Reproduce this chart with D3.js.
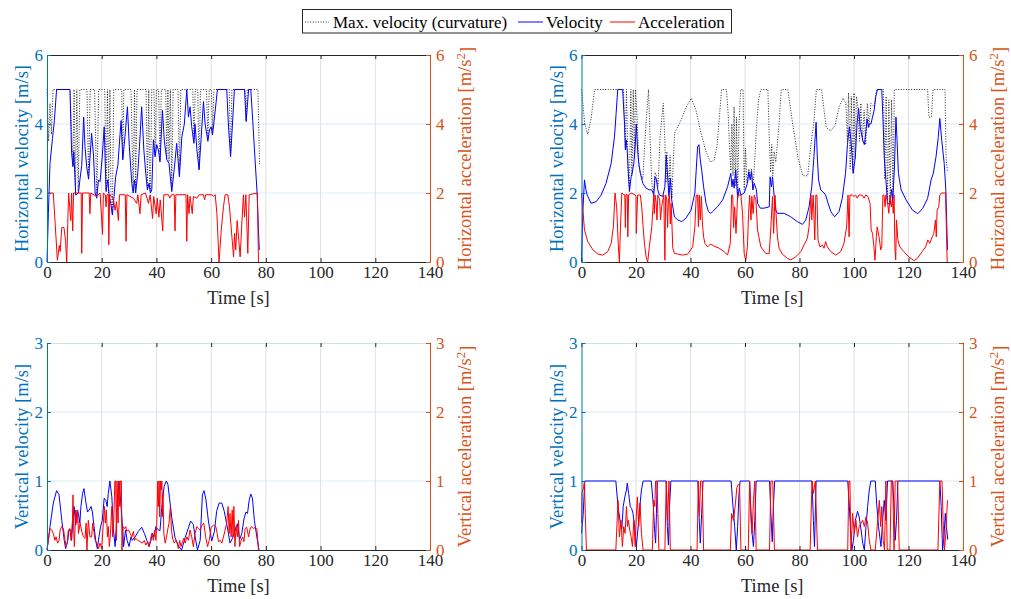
<!DOCTYPE html>
<html>
<head>
<meta charset="utf-8">
<script src="https://cdn.jsdelivr.net/npm/d3@7"></script>
<style>
  body { margin: 0; background: #fff; }
  svg { display: block; }
</style>
</head>
<body>
<svg id="chart" width="1011" height="599" font-family="'Liberation Serif', 'Times New Roman', serif"></svg>
<script>
// ---- tick values ----
const timeTicks = [0, 20, 40, 60, 80, 100, 120, 140];
const horizTicks = [0, 2, 4, 6];
const vertTicks = [0, 1, 2, 3];

// ---- top-left: horizontal, [time s, value] ----
const tlMaxVel = [[0,5],[0.6,3.5],[1.1,4.6],[1.6,3.7],[2.2,5],[8.4,5],[9.5,2.8],[9.9,5],[10.4,2.0],[10.9,5],[11.4,2.05],[12.0,5],
  [14.6,5],[15.2,2.45],[15.8,5],[17.4,5],[18.2,1.9],[18.9,5],[21.1,5],[21.6,2.1],[22.1,5],[22.5,2.0],[23.0,5],[23.4,1.8],[23.9,1.4],
  [24.4,5],[27.3,5],[27.7,3.0],[28.1,5],[30.7,5],[31.5,2.05],[32.0,5],[32.4,2.05],[32.9,5],[36.2,5],[36.7,2.15],[37.2,5],[37.5,2.3],
  [37.8,2.05],[38.3,5],[39.1,5],[39.5,3.1],[40.0,5],[40.8,5],[41.3,2.95],[41.8,5],[43.4,5],[43.8,3.0],[44.2,5],[44.6,2.9],[45.1,5],
  [45.6,2.1],[46.1,5],[47.9,5],[48.4,2.5],[48.9,5],[53.3,5],[53.7,3.5],[54.2,5],[55.1,5],[55.6,2.7],[56.1,5],[58.3,5],[58.8,3.55],
  [59.3,5],[60.1,5],[60.5,3.7],[61.0,5],[66.6,5],[67.1,3.1],[67.6,5],[72.4,5],[72.8,4.1],[73.2,5],[77.1,5],[77.7,2.8]];
const tlVel = [[0,0],[0.5,1.4],[1.1,2.86],[2.0,3.58],[2.7,4.1],[3.5,5],[8.4,5],[9.0,3.15],[9.5,2.76],[9.8,3.2],[10.5,1.94],[11.5,2.0],
  [12.1,2.43],[12.7,2.8],[13.4,4.2],[13.9,3.34],[14.5,2.76],[15.2,2.4],[16.3,3.73],[17.0,3.1],[17.6,2.0],[18.2,1.85],[18.8,2.38],
  [19.4,2.33],[20.2,3.05],[20.9,3.92],[21.6,2.04],[22.2,2.38],[22.7,1.94],[23.3,1.7],[23.9,1.36],[24.5,1.9],[25.1,2.47],[25.9,2.8],
  [26.7,3.7],[27.1,4.1],[27.7,2.96],[28.5,3.63],[29.4,4.5],[30.1,3.34],[31.0,2.28],[31.5,2.0],[32.0,2.38],[32.4,2.0],[33.2,2.6],
  [33.8,3.34],[34.6,4.5],[35.4,3.25],[36.1,2.57],[36.7,2.09],[37.3,2.28],[37.8,2.0],[38.3,2.09],[38.9,3.54],[39.5,3.05],[40.1,3.4],
  [40.7,3.25],[41.3,2.9],[42.2,4.4],[42.9,3.5],[43.8,2.96],[44.6,2.86],[45.6,2.04],[46.6,2.76],[47.4,3.44],[48.4,2.47],[49.3,3.63],
  [50.2,4.0],[51.1,5],[51.7,4.2],[52.3,4.5],[52.9,3.92],[53.7,3.44],[54.1,4.0],[54.8,3.25],[55.6,2.67],[56.3,3.54],[57.2,4.65],
  [57.8,4.0],[58.8,3.5],[59.4,3.83],[60.0,3.92],[60.5,3.68],[61.1,4.1],[62.3,5],[65.7,5],[66.3,4.0],[67.1,3.05],[67.8,4.0],[68.5,5],
  [72.2,5],[72.8,4.07],[73.7,5],[74.5,5],[75.2,4.1],[76.1,2.9],[76.8,2.0],[77.3,0.9],[77.6,0.35]];
const tlAcc = [[0,2],[2.3,2],[3.8,0.05],[4.5,0.48],[4.8,0.3],[5.4,1.0],[6.2,1.0],[6.8,0.6],[7.2,0],[7.9,2],[8.7,1.2],[9.0,2],[9.4,0.9],
  [9.7,2],[12.5,2],[12.7,0.25],[13.0,2],[15.4,2],[15.7,1.4],[16.0,2],[18.2,1.9],[19.4,2],[20.3,0.8],[20.6,2],[21.3,1.95],[21.6,1.6],
  [21.9,1.95],[22.4,1.95],[22.6,0.5],[22.9,1.95],[23.7,1.9],[24.3,1.8],[24.9,1.5],[25.4,1.75],[26.1,1.2],[26.5,1.95],[28.6,1.95],
  [28.9,0.6],[29.2,1.95],[31.6,1.85],[32.8,1.7],[33.2,1.95],[34.0,1.4],[34.4,1.95],[36.0,2],[37.1,1.7],[37.7,1.95],[38.6,1.26],
  [39.0,1.9],[39.9,1.4],[40.3,1.85],[40.9,1.3],[41.4,1.8],[42.3,0.9],[42.7,1.95],[44.4,1.95],[44.9,1.85],[45.5,1.95],[46.5,1.95],
  [46.8,0.9],[47.1,1.95],[50.8,1.95],[51.1,0.6],[51.4,1.95],[51.9,1.4],[52.3,1.9],[53.1,1.4],[53.5,1.9],[54.8,1.85],[55.6,1.95],
  [57.2,1.95],[57.6,1.8],[58.0,1.95],[60.3,1.95],[60.8,1.9],[61.5,1.95],[62.1,1.4],[62.9,0],[63.7,0.93],[64.5,1.6],[65.1,1.95],
  [66.1,1.95],[66.7,1.6],[67.6,0.73],[68.2,0.15],[68.6,0.83],[69.0,0.35],[69.5,1.2],[70.0,0.73],[70.6,0.15],[71.2,1.1],[71.8,1.95],
  [72.2,1.3],[72.7,1.95],[73.4,0.25],[73.9,1.95],[76.9,2],[77.3,0]];

// ---- top-right: horizontal ----
const trMaxVel = [[0,5],[1.2,4.0],[2.3,3.7],[3.6,4.2],[4.8,5],[15.4,5],[16.1,3.3],[16.5,5],[17.1,2.6],[17.6,2.1],[18.1,5],[18.5,2.5],
  [19.0,5],[19.4,3.0],[19.8,5],[20.4,4.2],[21.0,2.9],[21.5,2.6],[22.5,2.4],[23.5,3.8],[24.6,5],[25.3,3.3],[25.8,2.3],[26.4,2.0],
  [27.0,2.6],[27.5,2.5],[28.1,2.2],[28.8,3.6],[30.0,4.6],[30.6,3.5],[31.0,2.3],[31.3,3.2],[31.8,2.5],[32.1,2.0],[32.5,3.1],[32.8,2.45],
  [33.2,1.85],[33.6,2.8],[34.2,3.75],[36.5,4.1],[38.5,4.5],[40.3,4.75],[42.0,4.4],[43.8,3.75],[45.7,3.2],[47.3,2.9],[48.7,2.95],
  [49.8,3.4],[50.5,4.1],[51.4,5],[53.2,5],[53.8,4.3],[54.4,3.2],[54.8,2.65],[55.2,4.0],[55.6,2.5],[56.0,4.5],[56.4,2.2],[56.9,4.2],
  [57.3,1.9],[57.8,4.0],[58.4,5],[59.3,5],[59.7,2.1],[60.2,3.3],[60.7,2.3],[61.4,2.7],[62.0,2.45],[62.4,2.7],[62.9,2.1],[63.6,3.0],
  [64.2,3.9],[65.0,4.7],[65.8,5],[68.4,5],[68.9,3.6],[69.4,2.6],[69.8,3.4],[70.2,2.5],[70.7,3.2],[71.3,2.9],[72.5,4.0],[73.3,5],
  [75.7,5],[77.5,4.0],[79.5,3.0],[81.2,2.5],[83.0,2.5],[84.2,3.4],[85.2,4.0],[86.2,5],[88.1,5],[89.0,4.4],[89.8,3.9],[91.4,3.8],
  [93.0,3.95],[94.6,4.5],[96.0,4.75],[97.0,4.6],[97.6,3.5],[98.0,4.9],[98.6,2.7],[99.0,4.8],[99.6,2.6],[100.0,4.9],[100.4,3.0],
  [100.9,4.8],[101.4,4.5],[102.0,3.5],[102.5,4.6],[103.1,3.5],[103.7,4.4],[104.3,3.4],[104.9,4.6],[105.5,3.9],[106.2,4.6],[107.4,4.5],
  [108.3,5],[110.8,5],[111.3,2.4],[111.8,4.8],[112.3,1.75],[112.8,4.7],[113.3,1.7],[113.8,4.7],[114.3,1.85],[114.8,5],[127.0,5],
  [127.5,4.2],[128.4,4.2],[129.0,5],[133.4,5],[133.8,3.0],[134.3,2.6]];
const trVel = [[0,0],[0.5,1.5],[1.1,2.38],[1.6,2.1],[2.1,1.94],[3.5,1.7],[5.4,1.75],[7.2,1.94],[9.0,2.28],[10.9,2.86],[12.1,3.63],
  [12.7,4.3],[13.3,5],[15.1,5],[15.8,4.0],[16.1,3.25],[16.4,3.54],[16.8,3.2],[17.2,2.57],[17.6,2.04],[18.2,2.47],[18.6,2.57],
  [19.2,2.86],[19.7,3.34],[20.1,4.0],[20.6,3.25],[21.0,2.86],[21.6,2.57],[22.5,2.28],[23.7,2.14],[24.9,2.09],[25.8,2.09],[26.3,2.0],
  [26.5,1.9],[27.0,2.47],[27.5,2.38],[28.0,2.09],[28.6,1.94],[29.8,1.9],[30.6,2.18],[31.1,3.1],[31.6,2.47],[32.1,1.9],[32.6,2.43],
  [33.1,1.8],[34.1,1.31],[35.3,1.22],[36.8,1.17],[38.3,1.27],[40.2,1.5],[41.6,2.0],[42.6,3.34],[43.1,3.4],[43.6,2.96],[44.1,2.67],
  [44.8,2.18],[45.7,1.7],[46.6,1.46],[47.5,1.41],[48.1,1.46],[49.9,1.6],[51.8,1.8],[53.6,2.18],[54.8,2.57],[55.2,2.18],[55.6,2.4],
  [56.0,2.14],[56.6,2.67],[57.3,1.85],[57.9,2.14],[58.5,1.94],[59.7,2.0],[60.9,2.28],[61.4,2.62],[61.9,2.38],[62.4,2.62],[62.9,2.09],
  [63.4,2.28],[64.2,2.09],[64.6,1.7],[65.6,1.56],[67.0,1.56],[68.9,1.6],[69.2,2.47],[69.7,2.18],[70.1,2.47],[70.7,1.9],[71.3,1.5],
  [71.9,1.41],[74.4,1.41],[76.8,1.31],[79.2,1.17],[81.1,1.09],[82.3,1.22],[83.5,1.6],[84.5,2.18],[85.3,3.05],[86.1,4.05],[86.5,3.1],
  [87.0,2.38],[87.8,2.09],[89.0,2.0],[89.6,1.94],[90.5,1.7],[91.5,1.46],[92.9,1.31],[94.5,1.46],[95.7,1.85],[96.9,2.57],[97.6,3.4],
  [98.3,3.92],[98.9,3.53],[99.7,2.57],[100.5,3.05],[101.1,4.0],[101.7,4.45],[102.3,3.9],[103.2,3.53],[103.8,3.4],[104.4,3.8],
  [104.8,4.15],[105.3,3.9],[105.6,4.0],[106.2,4.0],[106.8,4.2],[107.4,4.4],[108.0,4.8],[108.6,5],[110.2,5],[110.7,4.0],[111.1,3.05],
  [111.7,2.38],[112.3,1.7],[113.2,1.67],[113.8,2.1],[114.2,1.8],[114.8,2.67],[115.4,4.2],[115.8,3.53],[116.3,2.57],[117.3,2.09],
  [119.1,1.8],[121.5,1.5],[123.4,1.4],[125.2,1.55],[127.0,1.84],[128.3,2.38],[129.1,2.57],[130.1,3.05],[130.9,3.6],[131.5,4.16],
  [132.2,3.53],[133.1,2.86],[133.7,2.09],[134.3,0.35]];
const trAcc = [[0,2],[0.4,1.6],[1.1,0.93],[2.3,0.59],[4.2,0.35],[6.0,0.23],[7.8,0.2],[9.6,0.3],[10.9,0.54],[11.7,1.02],[12.3,2.0],
  [12.9,1.6],[13.5,0.5],[13.9,0],[14.3,1.0],[14.8,2],[15.5,1.95],[15.9,1.95],[16.1,1.0],[16.3,1.95],[16.8,1.95],[17.0,0.73],[17.3,1.95],
  [18.2,2.0],[19.6,1.95],[20.0,1.9],[20.1,0.83],[20.6,1.94],[21.6,1.94],[22.1,1.6],[22.7,0.93],[23.1,0.54],[23.7,0.15],[24.3,0],
  [24.9,0.45],[25.8,1.02],[26.5,1.94],[26.7,1.4],[27.0,1.94],[27.4,1.7],[27.7,1.22],[28.0,1.94],[28.7,1.8],[29.0,1.22],[29.4,1.6],
  [30.2,1.94],[30.6,0.05],[30.9,1.94],[31.3,1.8],[31.6,1.0],[31.9,1.8],[32.3,1.94],[32.6,1.1],[32.9,1.7],[33.5,0.4],[34.1,0.25],
  [35.3,0.23],[37.1,0.2],[39.0,0.23],[40.8,0.44],[41.6,1.02],[42.1,1.94],[42.6,1.94],[42.9,1.02],[43.2,1.94],[43.6,1.22],[44.0,1.9],
  [44.4,1.1],[44.8,0.73],[45.3,0.54],[46.3,0.44],[47.3,0.52],[48.7,0.46],[50.5,0.4],[52.4,0.3],[53.6,0.2],[54.6,0.54],[55.1,1.94],
  [55.5,1.94],[55.8,1.0],[56.2,1.6],[56.7,0.83],[57.3,1.94],[58.5,1.94],[59.1,1.4],[59.7,0.25],[60.3,0.05],[60.9,0.45],[61.3,1.4],
  [61.7,1.94],[62.2,1.22],[62.5,1.9],[63.0,1.4],[63.4,1.94],[64.0,1.8],[64.6,0.93],[65.8,0.44],[67.6,0.25],[68.9,0.25],[69.5,1.02],
  [70.1,1.9],[70.5,0.83],[71.0,1.94],[71.4,1.4],[71.9,0.73],[72.5,0.4],[73.7,0.23],[75.6,0.1],[76.8,0.06],[78.6,0.15],[80.5,0.3],
  [81.7,0.5],[82.9,0.69],[83.5,1.02],[84.2,1.94],[84.5,1.22],[85.0,1.94],[85.3,1.4],[85.6,0.64],[86.0,1.94],[86.4,1.94],[86.8,0.64],
  [87.5,0.44],[88.4,0.49],[89.0,0.4],[89.6,0.59],[90.2,0.44],[91.5,0.3],[93.3,0.2],[95.1,0.3],[96.3,0.54],[97.3,1.02],[97.8,1.94],
  [98.2,0.73],[98.5,1.94],[99.4,1.94],[100.0,1.9],[100.6,1.94],[101.2,1.85],[101.8,1.94],[103.0,1.94],[103.7,1.85],[104.3,1.94],
  [105.1,1.9],[105.9,1.7],[106.3,0.93],[106.8,0.83],[107.3,0.44],[107.7,0.05],[108.2,0.73],[108.5,1.02],[109.2,0.73],[109.8,0.35],
  [110.2,0.45],[110.6,1.94],[111.0,1.94],[111.4,1.6],[111.7,1.94],[112.2,1.8],[112.8,1.41],[113.2,1.94],[113.7,1.6],[114.1,1.8],
  [114.4,1.41],[114.7,1.94],[115.0,0.44],[115.3,0.06],[115.6,1.22],[116.1,0.64],[116.8,0.44],[118.3,0.3],[120.1,0.15],[122.0,0.04],
  [123.2,0.1],[125.0,0.3],[126.3,0.44],[127.1,0.64],[127.8,0.54],[128.7,0.73],[129.3,0.83],[129.9,1.22],[130.2,0.73],[130.5,1.5],
  [131.1,1.6],[131.5,1.94],[132.1,2],[133.6,2],[134.2,0]];

// ---- bottom-left: vertical ----
const blVel = [[0,0],[1.1,0.34],[2.3,0.68],[3.5,0.86],[4.4,0.8],[5.4,0.43],[6.3,0.14],[6.8,0.02],[7.6,0.14],[8.0,0.29],[8.7,0.29],
  [9.0,0.14],[9.4,0.39],[9.9,0.63],[10.5,0.36],[11.0,0.58],[11.5,0.53],[12.0,0.39],[12.4,0.63],[13.0,0.82],[13.5,0.89],[14.1,0.72],
  [14.8,0.55],[15.4,0.58],[16.1,0.63],[16.6,0.55],[17.2,0.34],[17.8,0.14],[18.4,0.02],[19.0,0.19],[19.6,0.34],[20.2,0.43],[20.9,0.75],
  [21.5,0.72],[22.0,0.63],[22.4,0.82],[23.0,1.0],[23.7,0.77],[24.3,0.29],[24.9,0.05],[25.4,0.39],[25.9,0.82],[26.3,1.0],[26.8,0.77],
  [27.6,0.34],[28.0,0.05],[28.7,0.29],[29.3,0.14],[30.0,0.05],[30.7,0.19],[31.2,0.14],[32.2,0.19],[33.4,0.27],[34.6,0.33],[35.6,0.24],
  [36.5,0.14],[37.3,0.05],[38.0,0.14],[38.5,0.24],[39.1,0.19],[39.8,0.34],[40.4,0.3],[41.3,0.28],[41.9,0.6],[42.8,0.92],[43.6,1.0],
  [44.2,0.95],[44.8,0.75],[45.6,0.47],[46.8,0.18],[48.0,0.06],[49.2,0.0],[50.5,0.18],[51.7,0.32],[52.5,0.42],[53.5,0.37],[54.1,0.2],
  [55.0,0.0],[56.0,0.14],[56.8,0.8],[57.4,0.86],[58.1,0.73],[59.0,0.42],[60.2,0.13],[61.2,0.27],[62.0,0.56],[62.9,0.68],[63.9,0.68],
  [64.8,0.56],[66.1,0.29],[66.9,0.1],[67.8,0.17],[68.8,0.29],[69.6,0.38],[70.4,0.15],[71.2,0.24],[72.0,0.45],[72.7,0.55],[73.3,0.53],
  [73.9,0.72],[74.5,0.81],[75.1,0.75],[75.8,0.43],[76.7,0.19],[77.5,0]];
const blAcc = [[0,0],[0.5,0.14],[1.1,0.31],[1.7,0.29],[2.3,0.24],[2.9,0.14],[3.3,0.19],[3.9,0.1],[4.4,0.14],[4.8,0.29],[5.4,0.34],
  [6.0,0.31],[6.6,0.14],[7.0,0.05],[7.4,0.1],[7.8,0.29],[8.4,0.31],[8.8,0.14],[9.3,0.43],[9.5,0.8],[9.8,0.24],[10.0,0.05],[10.5,0.58],
  [10.9,0.39],[11.2,0.58],[11.5,0.24],[12.1,0.39],[12.7,0.27],[13.3,0.19],[13.9,0.17],[14.3,0.39],[14.6,0],[15.1,0.43],[15.7,0.19],
  [16.3,0.19],[16.7,0.39],[17.1,0.27],[17.6,0.14],[18.2,0.1],[18.8,0.02],[19.4,0.1],[20.0,0.02],[20.6,0.39],[21.0,0.63],[21.3,0.39],
  [21.7,0.58],[22.1,0.19],[22.4,0.34],[22.8,0.05],[23.2,0.24],[23.7,0.63],[24.0,0.19],[24.4,0.43],[24.8,1.0],[25.1,1.0],[25.4,0.14],
  [25.6,1.0],[26.0,0.39],[26.2,1.0],[26.6,0.63],[26.8,1.0],[27.2,1.0],[27.4,0],[27.8,0.34],[28.3,0.31],[28.8,0.34],[29.1,0.27],
  [29.8,0.29],[30.4,0.24],[31.0,0.19],[31.6,0.27],[32.0,0.14],[32.4,0.17],[33.2,0.14],[34.0,0.12],[34.9,0.1],[35.6,0.14],[36.1,0.07],
  [36.8,0.12],[37.3,0.05],[37.8,0.14],[38.3,0.24],[38.9,0.14],[39.3,0.29],[39.8,0.14],[40.1,0.34],[40.5,1.0],[40.7,0.63],[41.0,1.0],
  [41.2,0.48],[41.5,1.0],[41.7,0.87],[42.0,1.0],[42.2,0.48],[42.4,0.82],[42.7,0.24],[43.2,0.1],[43.7,0.19],[44.1,0.29],[44.6,0.39],
  [45.1,0.63],[45.5,0.29],[45.9,0.17],[46.5,0.1],[47.1,0.14],[47.6,0.1],[48.0,0.02],[48.5,0.14],[49.0,0.05],[49.5,0.12],[50.0,0.17],
  [50.5,0.1],[51.1,0.19],[51.7,0.14],[52.3,0.29],[52.9,0.19],[53.5,0.05],[54.1,0.24],[54.8,0.34],[55.4,0.31],[56.0,0.29],[56.6,0.35],
  [57.3,0.39],[58.0,0.19],[58.7,0.05],[59.3,0.14],[60.0,0.33],[60.9,0.36],[61.7,0.34],[62.2,0.24],[62.7,0.12],[63.3,0.14],[63.9,0.1],
  [64.5,0.19],[65.1,0.29],[65.7,0.39],[66.2,0.63],[66.6,0.24],[66.9,0.53],[67.3,0.19],[67.7,0.58],[68.0,0.19],[68.3,0.63],[68.7,0.05],
  [69.1,0.34],[69.6,0.19],[70.0,0.43],[70.4,0.05],[71.0,0.14],[71.5,0.19],[72.0,0.12],[72.4,0.31],[73.0,0.33],[73.7,0.19],[74.3,0.32],
  [74.9,0.34],[75.5,0.31],[76.1,0.33],[76.7,0.31],[77.3,0]];

// ---- bottom-right: vertical ----
const brVel = [[0,0.24],[0.6,0.5],[1.2,1],[12.6,1],[13.4,0.63],[14.3,0.39],[14.8,0.31],[15.3,0.63],[15.9,0.77],[16.5,0.87],[16.8,0.97],
  [17.3,0.82],[17.9,0.63],[18.4,0.6],[18.9,0.53],[19.5,0.34],[20.1,0.05],[20.8,0.34],[21.4,0.63],[22.0,0.87],[22.6,1],[25.6,1],
  [26.3,0.68],[26.9,0.24],[27.2,0.1],[27.5,0.53],[27.8,1],[31.1,1],[31.5,0.34],[31.9,0.07],[32.3,0.63],[32.8,1],[42.7,1],[43.1,0.53],
  [43.6,0.1],[44.1,0.53],[44.6,1],[54.9,1],[55.6,0.63],[56.2,0.34],[56.8,0],[57.3,0.34],[57.8,0.82],[58.2,1],[61.7,1],[62.1,0.63],
  [62.6,0.24],[63.1,0.05],[63.6,0.43],[64.1,1],[69.0,1],[69.5,0.53],[70.0,0.12],[70.4,0.63],[70.9,1],[84.6,1],[85.1,0.43],[85.5,0.05],
  [86.1,1],[97.7,1],[98.3,0.63],[98.8,0.24],[99.2,0],[99.8,0.14],[100.5,0.43],[101.3,0.56],[101.9,0.48],[102.6,0.29],[103.2,0.1],
  [103.8,0],[104.4,0.34],[105.0,0.63],[105.6,0.87],[106.2,1],[107.8,1],[108.3,0.68],[109.0,0.34],[109.9,0.05],[110.5,0.43],
  [111.1,0.72],[111.7,0.43],[112.3,1],[114.2,1],[114.8,0.53],[115.1,0.14],[115.6,0.43],[116.1,1],[131.5,1],[132.0,0.63],[132.5,0],
  [133.0,0.19],[133.5,0.53],[133.9,0.34],[134.4,0.15]];
const brAcc = [[0,0.39],[0.2,0.82],[0.7,0.9],[1.1,1],[1.4,0.5],[1.8,0],[12.6,0],[13.4,0.72],[13.9,0.19],[14.5,0.43],[15.0,0.05],
  [15.5,0.34],[16.0,0.24],[16.5,0.63],[16.9,0.34],[17.2,0.43],[17.7,0.29],[18.2,0.19],[18.7,0.05],[19.2,0.43],[19.7,0.05],[20.1,0.48],
  [20.5,0.77],[21.0,0.34],[21.5,0.68],[22.0,0.24],[22.6,0],[26.0,0],[26.5,0.72],[26.9,0.63],[27.2,1],[27.7,1],[28.4,0],[30.6,0],
  [31.1,1],[31.6,0.43],[32.1,1],[32.6,0],[42.4,0],[42.9,1],[43.3,0.5],[43.7,1],[44.3,1],[44.8,0],[54.6,0],[55.1,0.53],[55.8,0.43],
  [56.5,0.68],[57.0,0.9],[57.5,0.95],[58.0,0.95],[58.5,0],[61.2,0],[61.7,1],[62.2,0.43],[62.6,0.24],[63.1,0.72],[63.6,1],[64.1,0],
  [69.0,0],[69.5,1],[70.2,1],[70.8,0],[83.9,0],[84.6,1],[85.1,0.82],[85.8,1],[86.6,0],[97.7,0],[98.1,1],[98.5,1],[98.9,0],[99.5,0.53],
  [100.1,0.24],[100.7,0.43],[101.3,0.19],[101.9,0.34],[102.6,0.39],[103.2,0.43],[103.8,0.34],[104.4,0.48],[105.0,0.39],[105.6,0.14],
  [106.2,0],[107.8,0],[108.3,0.24],[108.8,0.48],[109.3,0.72],[109.8,0.34],[110.2,0.63],[110.7,0.14],[111.2,0],[111.7,1],[112.2,0],
  [113.2,0],[113.7,1],[114.2,1],[114.7,0],[115.1,1],[116.0,1],[116.6,0],[130.8,0],[131.5,1],[132.3,1],[132.7,0.43],[133.2,0],
  [133.7,0.24],[134.3,0.72]];

const AX_BLUE = '#0072BD', AX_ORANGE = '#D95319', AX_DARK = '#262626';
const SERIF = "'Liberation Serif', 'Times New Roman', serif";
const TICK_FS = 17, LABEL_FS = 18.5;
const svg = d3.select('#chart');

function panel(o) {
  const x = d3.scaleLinear().domain([0, 140]).range([o.left, o.right]);
  const y = d3.scaleLinear().domain([0, o.ymax]).range([o.bottom, o.top]);
  const g = svg.append('g').attr('font-family', SERIF);

  // grid
  g.selectAll(null).data(timeTicks.slice(1, -1)).enter().append('line')
    .attr('x1', d => x(d)).attr('x2', d => x(d)).attr('y1', o.top).attr('y2', o.bottom)
    .attr('stroke', '#dfdfdf').attr('stroke-width', 1);
  g.selectAll(null).data(o.ticks.slice(1, -1)).enter().append('line')
    .attr('x1', o.left).attr('x2', o.right).attr('y1', d => y(d)).attr('y2', d => y(d))
    .attr('stroke', '#d9eaf5').attr('stroke-width', 1);

  const line = d3.line().x(d => x(d[0])).y(d => y(d[1]));
  if (o.maxVel) {
    g.append('path').datum(o.maxVel).attr('d', line).attr('fill', 'none')
      .attr('stroke', '#111').attr('stroke-width', 0.9).attr('stroke-dasharray', '1,1.6');
  }
  g.append('path').datum(o.vel).attr('d', line).attr('fill', 'none')
    .attr('stroke', '#0000ff').attr('stroke-width', 1);
  g.append('path').datum(o.acc).attr('d', line).attr('fill', 'none')
    .attr('stroke', '#ff0000').attr('stroke-width', 1);

  const fmt = d3.format('d');

  // top border with mirrored ticks
  const top = g.append('g').attr('transform', `translate(0,${o.top})`)
    .call(d3.axisTop(x).tickValues(timeTicks).tickSize(-4).tickSizeOuter(0).tickFormat(''));
  top.attr('color', o.topColor);
  top.selectAll('.tick line').attr('stroke', AX_DARK);

  const bx = g.append('g').attr('transform', `translate(0,${o.bottom})`)
    .call(d3.axisBottom(x).tickValues(timeTicks).tickSize(-4).tickSizeOuter(0).tickPadding(4).tickFormat(fmt));
  bx.attr('color', AX_DARK).attr('font-size', TICK_FS).attr('font-family', SERIF);

  const ly = g.append('g').attr('transform', `translate(${o.left},0)`)
    .call(d3.axisLeft(y).tickValues(o.ticks).tickSize(-4).tickSizeOuter(0).tickPadding(4).tickFormat(fmt));
  ly.attr('color', AX_BLUE).attr('font-size', TICK_FS).attr('font-family', SERIF);

  const ry = g.append('g').attr('transform', `translate(${o.right},0)`)
    .call(d3.axisRight(y).tickValues(o.ticks).tickSize(-4).tickSizeOuter(0).tickPadding(6).tickFormat(fmt));
  ry.attr('color', AX_ORANGE).attr('font-size', TICK_FS).attr('font-family', SERIF);

  const midY = (o.top + o.bottom) / 2;
  g.append('text').attr('x', (o.left + o.right) / 2).attr('y', o.bottom + 42)
    .attr('text-anchor', 'middle').attr('font-size', LABEL_FS).attr('fill', AX_DARK).text('Time [s]');
  g.append('text').attr('transform', `translate(${o.left - 19},${midY}) rotate(-90)`)
    .attr('text-anchor', 'middle').attr('font-size', LABEL_FS).attr('fill', AX_BLUE).text(o.leftLabel);
  const rl = g.append('text').attr('transform', `translate(${o.right + 41},${midY}) rotate(-90)`)
    .attr('text-anchor', 'middle').attr('font-size', LABEL_FS).attr('fill', AX_ORANGE);
  rl.append('tspan').text(o.rightLabel + ' [m/s');
  rl.append('tspan').attr('dy', '-0.45em').attr('font-size', 13).text('2');
  rl.append('tspan').attr('dy', '0.45em').text(']');
}

panel({ left: 47, right: 430, top: 55, bottom: 262, ymax: 6, ticks: horizTicks, topColor: AX_DARK,
  maxVel: tlMaxVel, vel: tlVel, acc: tlAcc,
  leftLabel: 'Horizontal velocity [m/s]', rightLabel: 'Horizontal acceleration' });
panel({ left: 581.5, right: 963, top: 55, bottom: 262, ymax: 6, ticks: horizTicks, topColor: AX_DARK,
  maxVel: trMaxVel, vel: trVel, acc: trAcc,
  leftLabel: 'Horizontal velocity [m/s]', rightLabel: 'Horizontal acceleration' });
panel({ left: 47, right: 430, top: 343, bottom: 550, ymax: 3, ticks: vertTicks, topColor: '#cfe0ea',
  vel: blVel, acc: blAcc,
  leftLabel: 'Vertical velocity [m/s]', rightLabel: 'Vertical acceleration' });
panel({ left: 581.5, right: 963, top: 343, bottom: 550, ymax: 3, ticks: vertTicks, topColor: '#cfe0ea',
  vel: brVel, acc: brAcc,
  leftLabel: 'Vertical velocity [m/s]', rightLabel: 'Vertical acceleration' });

// legend
const legend = svg.append('g').attr('font-family', SERIF);
legend.append('rect').attr('x', 302.5).attr('y', 9.5).attr('width', 429).attr('height', 23.5)
  .attr('fill', '#fff').attr('stroke', AX_DARK).attr('stroke-width', 1);
const legendItems = [
  { label: 'Max. velocity (curvature)', color: '#111', dash: '1,1.6', x0: 305, x1: 329, tx: 333 },
  { label: 'Velocity', color: '#0000ff', dash: null, x0: 518, x1: 543, tx: 546 },
  { label: 'Acceleration', color: '#ff0000', dash: null, x0: 610, x1: 635, tx: 638 }
];
legendItems.forEach(it => {
  legend.append('line').attr('x1', it.x0).attr('x2', it.x1).attr('y1', 22).attr('y2', 22)
    .attr('stroke', it.color).attr('stroke-width', it.dash ? 0.9 : 1).attr('stroke-dasharray', it.dash);
  legend.append('text').attr('x', it.tx).attr('y', 28).attr('font-size', 17).attr('fill', '#000').text(it.label);
});
</script>
</body>
</html>
